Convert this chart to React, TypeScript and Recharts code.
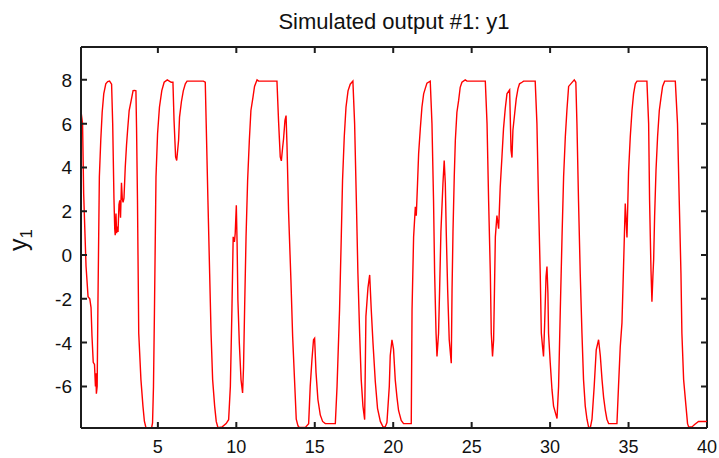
import { LineChart, Line, XAxis, YAxis, ReferenceLine } from "recharts"

// simulated output y1, sampled off the plot
const timeValues = [
  0.1, 0.12, 0.2, 0.27, 0.42, 0.55, 0.66, 0.74, 0.8, 0.88, 0.96, 1.02, 1.05, 1.08, 1.13, 1.18,
  1.27, 1.36, 1.45, 1.55, 1.68, 1.8, 1.92, 2.05, 2.12, 2.2, 2.25, 2.28, 2.33, 2.37, 2.42, 2.46,
  2.52, 2.57, 2.62, 2.68, 2.73, 2.78, 2.84, 2.92, 3.0, 3.07, 3.17, 3.3, 3.42, 3.52, 3.6, 3.64,
  3.7, 3.78, 3.92, 4.05, 4.14, 4.24, 4.6, 4.66, 4.72, 4.78, 4.88, 4.98, 5.1, 5.25, 5.4, 5.6,
  5.85, 5.96, 6.03, 6.13, 6.2, 6.32, 6.38, 6.5, 6.62, 6.75, 6.86, 7.9, 8.02, 8.08, 8.19, 8.3,
  8.39, 8.49, 8.62, 8.72, 8.83, 9.1, 9.35, 9.51, 9.62, 9.72, 9.8, 9.88, 9.93, 10.0, 10.05, 10.1,
  10.19, 10.3, 10.4, 10.46, 10.53, 10.62, 10.72, 10.83, 10.93, 11.06, 11.16, 11.32, 11.42, 12.59,
  12.69, 12.8, 12.87, 12.95, 13.01, 13.1, 13.17, 13.23, 13.33, 13.48, 13.59, 13.71, 13.82, 13.93,
  14.01, 14.4, 14.61, 14.71, 14.82, 14.92, 14.99, 15.08, 15.2, 15.35, 15.5, 15.67, 16.31, 16.42,
  16.58, 16.69, 16.77, 16.88, 16.99, 17.12, 17.26, 17.43, 17.54, 17.65, 17.75, 17.86, 17.96, 18.07,
  18.18, 18.26, 18.39, 18.5, 18.6, 18.71, 18.86, 19.0, 19.18, 19.35, 19.49, 19.6, 19.75, 19.81,
  19.92, 20.02, 20.13, 20.24, 20.34, 20.51, 20.66, 21.15, 21.2, 21.3, 21.41, 21.47, 21.55, 21.62,
  21.73, 21.83, 21.94, 22.04, 22.15, 22.36, 22.47, 22.57, 22.64, 22.73, 22.79, 22.89, 22.96, 23.04,
  23.17, 23.25, 23.32, 23.38, 23.47, 23.57, 23.7, 23.75, 23.81, 23.89, 23.96, 24.06, 24.17, 24.27,
  24.38, 24.59, 24.7, 25.87, 25.98, 26.08, 26.19, 26.25, 26.33, 26.4, 26.45, 26.51, 26.61, 26.72,
  26.82, 26.93, 27.03, 27.14, 27.25, 27.42, 27.51, 27.57, 27.63, 27.74, 27.84, 27.95, 28.05, 28.21,
  28.31, 29.05, 29.16, 29.26, 29.37, 29.44, 29.52, 29.58, 29.65, 29.74, 29.8, 29.86, 29.9, 30.01,
  30.12, 30.22, 30.44, 30.54, 30.65, 30.76, 30.86, 30.97, 31.07, 31.18, 31.54, 31.64, 31.71, 31.81,
  31.92, 32.03, 32.13, 32.24, 32.35, 32.45, 32.56, 32.67, 32.81, 32.94, 33.09, 33.2, 33.31, 33.41,
  33.52, 33.62, 33.73, 34.26, 34.36, 34.47, 34.58, 34.68, 34.79, 34.9, 35.0, 35.11, 35.22, 35.32,
  35.43, 35.54, 36.17, 36.28, 36.34, 36.43, 36.49, 36.55, 36.6, 36.66, 36.75, 36.85, 36.96, 37.07,
  37.17, 37.3, 37.98, 38.12, 38.23, 38.34, 38.4, 38.51, 38.66, 38.76, 38.83, 39.04, 39.21, 39.46,
  40.0,
]

const outputValues = [
  9.48, 6.45, 6.0, 2.8, -0.5, -1.9, -2.0, -2.4, -3.7, -4.9, -5.0, -6.0, -5.4, -6.33, -6.0, -2.2,
  3.56, 5.24, 6.52, 7.36, 7.82, 7.92, 7.94, 7.8, 6.0, 2.6, 1.2, 0.9, 1.9, 1.0, 1.3, 1.05,
  2.3, 2.5, 1.7, 3.3, 2.6, 2.4, 2.6, 4.0, 5.0, 5.7, 6.6, 7.06, 7.51, 7.52, 7.5, 5.84,
  2.5, -3.57, -5.69, -6.91, -7.59, -7.89, -7.89, -7.67, -6.0, -2.66, 3.56, 5.54, 6.75, 7.51, 7.89, 8.0,
  7.89, 7.89, 6.15, 4.48, 4.32, 5.24, 6.3, 7.0, 7.5, 7.82, 7.94, 7.94, 7.89, 6.0, 2.5, -0.84,
  -3.57, -5.69, -6.91, -7.6, -7.89, -7.85, -7.7, -7.52, -6.0, -2.5, 0.83, 0.6, 1.0, 2.27, 0.5, -2.05,
  -4.0, -5.7, -6.3, -5.1, -2.4, 0.83, 3.4, 5.24, 6.6, 7.2, 7.7, 8.0, 7.94, 7.94,
  6.15, 4.48, 4.3, 4.9, 5.3, 6.15, 6.37, 5.0, 1.97, -1.14, -3.72, -5.7, -7.5, -7.8,
  -7.87, -7.87, -7.7, -6.0, -4.78, -3.87, -3.8, -5.37, -6.6, -7.3, -7.6, -7.7, -7.7, -6.0,
  -2.5, 0.83, 3.4, 5.4, 6.75, 7.5, 7.8, 7.94, 6.0, 2.5, -0.84, -3.57, -5.69, -6.9,
  -7.52, -2.8, -1.5, -0.91, -2.5, -4.0, -5.8, -7.0, -7.6, -7.85, -7.85, -7.65, -6.0, -4.6,
  -3.87, -4.3, -5.7, -6.5, -7.1, -7.55, -7.7, -7.7, -2.5, 0.83, 2.2, 1.8, 3.27, 4.63,
  5.8, 6.75, 7.36, 7.6, 7.85, 7.94, 6.0, 2.5, -0.84, -3.57, -4.63, -3.57, -1.5, 1.06,
  3.27, 4.32, 3.27, 1.06, -1.6, -3.87, -4.94, -1.6, 1.06, 3.56, 5.24, 6.52, 7.06, 7.66,
  7.89, 8.0, 7.94, 7.94, 6.0, 2.5, -0.84, -3.57, -4.63, -3.87, -1.74, 0.83, 1.8, 1.2,
  3.1, 4.48, 5.77, 6.68, 7.36, 7.54, 4.78, 4.45, 5.7, 6.45, 7.13, 7.59, 7.82, 7.89,
  7.94, 7.94, 6.0, 2.5, -0.84, -3.57, -4.2, -4.63, -3.2, -1.0, -0.53, -1.74, -3.57, -4.94,
  -6.15, -6.9, -7.47, -6.0, -2.5, 0.83, 3.56, 5.4, 6.6, 7.7, 8.0, 7.89, 6.0, 2.5,
  -0.84, -3.57, -5.69, -6.9, -7.5, -7.85, -7.9, -7.5, -6.0, -4.33, -3.87, -4.6, -5.7, -6.5,
  -7.1, -7.5, -7.7, -7.7, -6.0, -4.2, -3.1, -0.53, 2.35, 0.8, 3.8, 5.4, 6.6, 7.36,
  7.82, 7.94, 7.94, 6.0, 2.5, -0.7, -2.13, -1.0, -0.2, 1.74, 3.87, 5.4, 6.6, 7.2,
  7.7, 7.94, 7.94, 6.0, 2.5, -0.84, -3.57, -5.69, -6.9, -7.7, -7.85, -7.85, -7.74, -7.6,
  -7.6,
]

const xTicks = [5, 10, 15, 20, 25, 30, 35, 40]
const yTicks = [-6, -4, -2, 0, 2, 4, 6, 8]
const xDomain = [0.1, 40]
const yDomain = [-7.9, 9.5]

const data = timeValues.map((t, i) => ({ t, y1: outputValues[i] }))

const PLOT_TOP = 47
const PLOT_BOTTOM = 428
const PLOT_LEFT = 81
const PLOT_RIGHT = 707
const TICK_LEN = 6
const AXIS_COLOR = "#1c1c1c"
const AXIS_WIDTH = 2
const FONT = "'Liberation Sans', Arial, Helvetica, sans-serif"

// MATLAB style: tick marks point into the box, on both opposite edges
function XTick(props: any) {
  const { x, payload } = props
  return (
    <g>
      <path
        d={`M${x},${PLOT_BOTTOM}v${-TICK_LEN}M${x},${PLOT_TOP}v${TICK_LEN}`}
        stroke={AXIS_COLOR}
        strokeWidth={AXIS_WIDTH}
        fill="none"
      />
      <text x={x} y={453} textAnchor="middle" fontSize={18} fill="#111" fontFamily={FONT}>
        {payload.value}
      </text>
    </g>
  )
}

function YTick(props: any) {
  const { y, payload } = props
  return (
    <g>
      <path
        d={`M${PLOT_LEFT},${y}h${TICK_LEN}M${PLOT_RIGHT},${y}h${-TICK_LEN}`}
        stroke={AXIS_COLOR}
        strokeWidth={AXIS_WIDTH}
        fill="none"
      />
      <text x={72} y={y + 7} textAnchor="end" fontSize={19} fill="#111" fontFamily={FONT}>
        {payload.value}
      </text>
    </g>
  )
}

function TitleLabel() {
  return (
    <text x={394} y={29} textAnchor="middle" fontSize={22} fill="#111" fontFamily={FONT}>
      Simulated output #1: y1
    </text>
  )
}

function YLabel() {
  return (
    <text
      x={27}
      y={240}
      transform="rotate(-90, 27, 240)"
      textAnchor="middle"
      fontSize={25}
      fill="#111"
      fontFamily={FONT}
    >
      y
      <tspan fontSize={17} dy={5}>
        1
      </tspan>
    </text>
  )
}

export default function App() {
  return (
    <div style={{ position: "absolute", left: 0, top: 0, background: "#fff" }}>
      <LineChart width={719} height={458} data={data} margin={{ top: 47, right: 12, bottom: 0, left: 0 }}>
        <XAxis
          dataKey="t"
          type="number"
          domain={xDomain}
          ticks={xTicks}
          interval={0}
          allowDataOverflow
          axisLine={{ stroke: AXIS_COLOR, strokeWidth: AXIS_WIDTH }}
          tickLine={false}
          tick={XTick}
          height={30}
          label={{ content: TitleLabel }}
        />
        <YAxis
          type="number"
          domain={yDomain}
          ticks={yTicks}
          interval={0}
          allowDataOverflow
          axisLine={{ stroke: AXIS_COLOR, strokeWidth: AXIS_WIDTH }}
          tickLine={false}
          tick={YTick}
          width={81}
          label={{ content: YLabel }}
        />
        <ReferenceLine y={yDomain[1]} stroke={AXIS_COLOR} strokeWidth={AXIS_WIDTH} />
        <ReferenceLine x={xDomain[1]} stroke={AXIS_COLOR} strokeWidth={AXIS_WIDTH} />
        <Line
          type="linear"
          dataKey="y1"
          stroke="#ff0000"
          strokeWidth={1.4}
          dot={false}
          isAnimationActive={false}
        />
      </LineChart>
    </div>
  )
}
